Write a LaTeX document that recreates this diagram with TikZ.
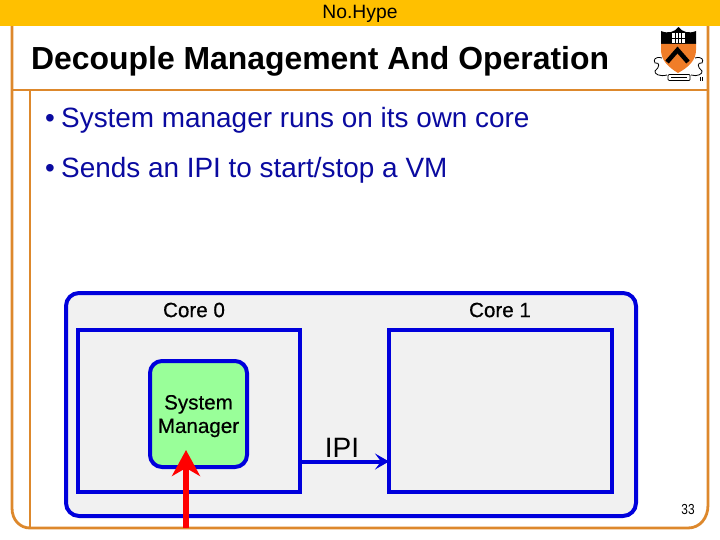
\documentclass[tikz,border=0pt]{standalone}
\usepackage{fontspec}
\setmainfont{Liberation Sans}
\usetikzlibrary{arrows.meta}
\definecolor{hdr}{RGB}{255,192,0}
\definecolor{frm}{RGB}{221,136,44}
\definecolor{blu}{RGB}{0,0,220}
\definecolor{bodytxt}{RGB}{10,10,160}
\definecolor{panel}{RGB}{241,241,241}
\definecolor{grn}{RGB}{153,255,153}
\definecolor{shieldo}{RGB}{240,125,40}
\tikzset{
  framel/.style={draw=frm,line width=2.8pt},
  corebox/.style={draw=blu,line width=4pt,fill=panel},
  lbl/.style={inner sep=0pt,font=\fontsize{20.6}{24}\addfontfeature{FakeBold=0.5}\selectfont,text=black},
  bul/.style={inner sep=0pt,anchor=west,font=\fontsize{27.9}{32}\selectfont,text=bodytxt},
  conn/.style={draw=blu,line width=4pt,-{Stealth[length=14pt,width=16pt,inset=6pt]}},
  redarrow/.style={draw=red,line width=6pt,-{Stealth[length=26pt,width=28pt,inset=8pt]}}
}
\begin{document}
\begin{tikzpicture}[x=1pt,y=-1pt]
\useasboundingbox (0,0) rectangle (720,540);
\fill[white] (0,0) rectangle (720,540);
% frame
\draw[framel] (12,26) -- (12,508) .. controls (12,520) and (20,528) .. (30,528) -- (688,528) .. controls (700,528) and (708,518) .. (708,505) -- (708,26);
\draw[framel] (12,90) -- (708,90);
\draw[framel] (30,90) -- (30,528);
% header
\fill[hdr] (0,0) rectangle (720,26);
\node[inner sep=0pt,font=\fontsize{19.3}{22}\selectfont] (hd) at (360,13.5) {No.Hype};
% title
\node[inner sep=0pt,anchor=west,font=\bfseries\fontsize{31.9}{36}\selectfont] (ttl) at (31,61) {Decouple Management And Operation};
% bullets
\node[bul] (b1) at (45,120) {•\hspace{-1.5pt} System manager runs on its own core};
\node[bul] (b2) at (45,170) {•\hspace{-1.5pt} Sends an IPI to start/stop a VM};
% panel
\draw[corebox,rounded corners=13pt] (66,293) rectangle (636,516);
\node[lbl] (c0) at (194,310) {Core 0};
\node[lbl] (c1) at (500,310) {Core 1};
\draw[corebox] (78,330) rectangle (300,492);
\draw[corebox] (389,330) rectangle (612,492);
\coordinate (src) at (300,461.5);
\coordinate (dst) at (389,461.5);
\draw[corebox,fill=grn,rounded corners=12pt] (150,361) rectangle (247,467);
\node[lbl,align=center,text depth=0pt] (sm) at (198.5,414) {System\\[-0.5pt]Manager};
\node[inner sep=0pt,font=\fontsize{28}{32}\selectfont] (ipi) at (342,448) {IPI};
\draw[conn] (src) -- (dst);
\coordinate (rs) at (186,528);
\coordinate (re) at (186,450);
\draw[redarrow] (rs) -- (re);
\node[inner sep=0pt,font=\fontsize{14.5}{16}\selectfont,xscale=.82] (pg) at (688,510) {33};
% logo
\begin{scope}
\fill[black] (661,31) .. controls (668,34) and (675,32) .. (678.5,27) .. controls (682,32) and (689,34) .. (696,31) -- (696,44) -- (661,44) -- cycle;
\fill[shieldo] (661,44) -- (696,44) -- (696,50) .. controls (696,60) and (689,67) .. (678,73) .. controls (668,67) and (661,60) .. (661,50) -- cycle;
\draw[black,line width=4.5pt] (667,62) -- (677.5,50) -- (688,62);
\fill[white] (672,33) rectangle (685,43);
\draw[black,line width=.9pt] (675.5,33) -- (675.5,43) (678.5,33) -- (678.5,43) (681.5,33) -- (681.5,43) (672,38) -- (685,38);
\draw[black,line width=.7pt,fill=white,rounded corners=1pt] (668,74.5) rectangle (690,80.5);
\draw[black,line width=.5pt] (671,77.5) -- (687,77.5);
\draw[black,line width=.8pt] (662,58) .. controls (655,56) and (653,60) .. (655,63) .. controls (660,62) and (660,67) .. (655,71) .. controls (654,74) and (660,77) .. (667,75);
\draw[black,line width=.8pt] (695,58) .. controls (702,56) and (704,60) .. (702,63) .. controls (697,62) and (697,67) .. (702,71) .. controls (703,74) and (697,77) .. (691,75);
\draw[black,line width=.5pt] (700,77) -- (700,81) (702,77) -- (702,81);
\end{scope}
\end{tikzpicture}
\end{document}
